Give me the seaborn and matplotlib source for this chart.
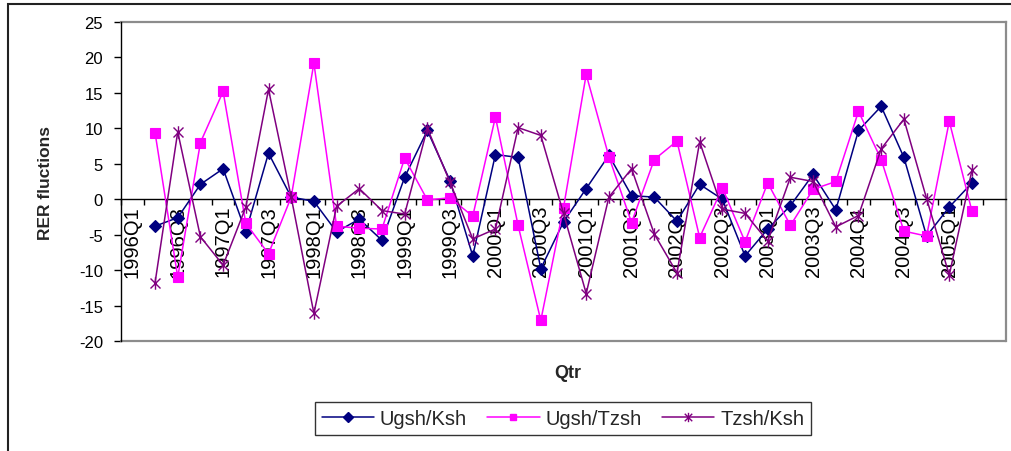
import numpy as np
import pandas as pd
import matplotlib
matplotlib.use("Agg")
import matplotlib.pyplot as plt
from matplotlib.path import Path
from matplotlib.lines import Line2D
from matplotlib.patches import Rectangle
import seaborn as sns

# Quarterly axis: 1996Q1 .. 2005Q3
quarters = [f"{y}Q{q}" for y in range(1996, 2006) for q in range(1, 5)][:39]

nan = np.nan
ugsh_ksh = [nan, -3.8, -2.6, 2.1, 4.3, -4.6, 6.5, 0.3, -0.3, -4.6, -2.8, -5.8, 3.1,
            9.7, 2.6, -8.0, 6.3, 5.9, -9.8, -3.2, 1.5, 6.2, 0.5, 0.3, -3.1, 2.1,
            0.0, -8.0, -4.2, -0.9, 3.5, -1.5, 9.7, 13.1, 5.9, -5.2, -1.1, 2.3, nan]
ugsh_tzsh = [nan, 9.4, -11.0, 8.0, 15.2, -3.4, -7.7, 0.3, 19.2, -3.8, -4.1, -4.2, 5.8,
             -0.1, 0.2, -2.4, 11.6, -3.7, -17.1, -1.2, 17.6, 6.0, -3.3, 5.6, 8.2, -5.4,
             1.6, -6.0, 2.3, -3.7, 1.4, 2.5, 12.4, 5.6, -4.5, -5.2, 11.0, -1.7, nan]
tzsh_ksh = [nan, -11.8, 9.5, -5.3, -9.3, -1.1, 15.5, 0.3, -16.1, -1.0, 1.5, -1.6, -2.1,
            10.0, 2.4, -5.6, -4.2, 10.1, 9.0, -2.0, -13.3, 0.3, 4.3, -4.9, -10.4, 8.1,
            -1.4, -2.0, -5.9, 3.1, 2.5, -3.9, -2.3, 7.1, 11.3, 0.1, -10.7, 4.1, nan]

series_names = ["Ugsh/Ksh", "Ugsh/Tzsh", "Tzsh/Ksh"]
series_values = [ugsh_ksh, ugsh_tzsh, tzsh_ksh]
series_colors = ["#000080", "#FF00FF", "#800080"]

# Asterisk-style marker: an X crossed by a vertical stroke
star = Path([(-1, -1), (1, 1), (-1, 1), (1, -1), (0, -1.25), (0, 1.25)],
            [Path.MOVETO, Path.LINETO, Path.MOVETO, Path.LINETO, Path.MOVETO, Path.LINETO])
series_markers = ["D", "s", star]
series_msize = [6.5, 6.5, 9.0]

sns.set_theme(style="white")
plt.rcParams["font.family"] = ["Liberation Sans", "DejaVu Sans"]
plt.rcParams["axes.unicode_minus"] = False

fig = plt.figure(figsize=(10.11, 4.52), dpi=100)
ax = fig.add_axes([121 / 1011, 1 - 342 / 452, (1006 - 121) / 1011, (342 - 23) / 452])

pos = np.arange(len(quarters))
for name, vals, col, mk, ms in zip(series_names, series_values, series_colors,
                                   series_markers, series_msize):
    df = pd.DataFrame({"pos": pos, "val": vals}).dropna()
    filled = mk != star
    sns.lineplot(data=df, x="pos", y="val", ax=ax, color=col, linewidth=1.1,
                 marker=mk, markersize=ms, markeredgecolor=col,
                 markerfacecolor=col if filled else "none",
                 markeredgewidth=0.8 if filled else 1.0, zorder=3, legend=False)

ax.set_xlim(-0.5, len(quarters) - 0.5)
ax.set_ylim(-20, 25)
ax.set_yticks(range(-20, 26, 5))
ax.set_xlabel("")
ax.set_ylabel("")

# Category labels on every other quarter, tick marks at category boundaries
label_pos = pos[:-1:2]
ax.set_xticks(label_pos)
ax.set_xticklabels([quarters[i] for i in label_pos])
ax.set_xticks(np.arange(len(quarters)) - 0.5, minor=True)
ax.tick_params(axis="x", which="major", length=0, pad=4, colors="black",
               labelsize=14.5, labelrotation=90)
ax.tick_params(axis="x", which="minor", length=4, width=1, direction="out",
               color="black", bottom=True)
ax.tick_params(axis="y", length=5, width=1, direction="out", pad=8,
               labelsize=12, colors="black", left=True)

for s in ["top", "right"]:
    ax.spines[s].set_color("#8c8c8c")
    ax.spines[s].set_linewidth(1.6)
ax.spines["left"].set_color("black")
ax.spines["left"].set_linewidth(1.0)
ax.spines["left"].set_zorder(4)
ax.spines["bottom"].set_position(("data", 0))
ax.spines["bottom"].set_color("black")
ax.spines["bottom"].set_linewidth(1.0)
ax.axhline(-20, color="#8c8c8c", linewidth=1.6, clip_on=False, zorder=2)

fig.text(45 / 1011, 1 - 182.5 / 452, "RER fluctions", rotation=90, fontsize=12.5,
         fontweight="bold", ha="center", va="center")
fig.text(568 / 1011, 1 - 374 / 452, "Qtr", fontsize=13, fontweight="bold",
         ha="center", va="center")

handles = [Line2D([], [], color=c, linewidth=1.1, marker=m, markersize=ms * 0.75,
                  markeredgecolor=c, markerfacecolor=c if m != star else "none",
                  markeredgewidth=1.0)
           for c, m, ms in zip(series_colors, series_markers, series_msize)]
leg = fig.legend(handles, series_names, loc="center",
                 bbox_to_anchor=(563 / 1011, 1 - 419.5 / 452), ncol=3, fontsize=14.5,
                 frameon=True, fancybox=False, edgecolor="black", handlelength=2.6,
                 handletextpad=0.3, columnspacing=1.0, borderpad=0.35)
leg.get_frame().set_linewidth(1.0)

# Chart-area border
fig.add_artist(Rectangle((8 / 1011, -0.5), 2.0, 0.5 + (1 - 5 / 452),
                         transform=fig.transFigure, fill=False,
                         edgecolor="#222222", linewidth=1.5))

fig.savefig("out.png", dpi=100, facecolor="white")
